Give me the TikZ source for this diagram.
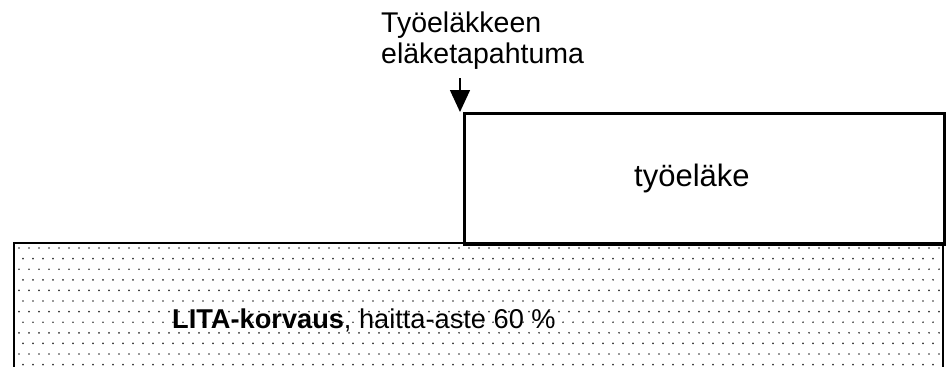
\documentclass[tikz,border=0pt]{standalone}
\usepackage{fontspec}
\setmainfont{Liberation Sans}
\usetikzlibrary{arrows.meta}
\begin{document}
\begin{tikzpicture}[x=1pt,y=-1pt,
  boxline/.style={draw=black,line width=2.6pt},
  lbl/.style={inner sep=0pt,anchor=base west},
  dotmark/.style={fill=black!80}]
\useasboundingbox (0,0) rectangle (946,367);
\begin{scope}
  \clip (15,243) rectangle (942,367);
  \foreach \r in {0,...,12}{
    \foreach \c in {0,...,93}{
      \fill[dotmark] ({19+\c*10+mod(\r,2)*4},{248+\r*10.6}) circle (0.95);
    }
  }
\end{scope}
% lower box (extends beyond bottom)
\draw[boxline] (14,372) -- (14,243) -- (943,243) -- (943,372);
% upper box
\node[boxline,anchor=north west,minimum width=480,minimum height=131,inner sep=0pt] (tyo) at (463,112) {};
\node[lbl,font=\fontsize{31}{35}\selectfont] (tyolbl) at (634,186) {työeläke};
\node[lbl,font=\fontsize{27.2}{31}\selectfont] (lita) at (172,328) {\textbf{LITA-korvaus}, haitta-aste 60 \%};
\node[lbl,font=\fontsize{28.5}{31}\selectfont] (t1) at (381,32) {Työeläkkeen};
\node[lbl,font=\fontsize{28.5}{31}\selectfont] (t2) at (381,63) {eläketapahtuma};
\coordinate (astart) at (460,78);
\draw[line width=1.5pt,-{Triangle[length=22pt,width=20pt]}] (astart) -- (tyo.north west -| astart);
\end{tikzpicture}
\end{document}
